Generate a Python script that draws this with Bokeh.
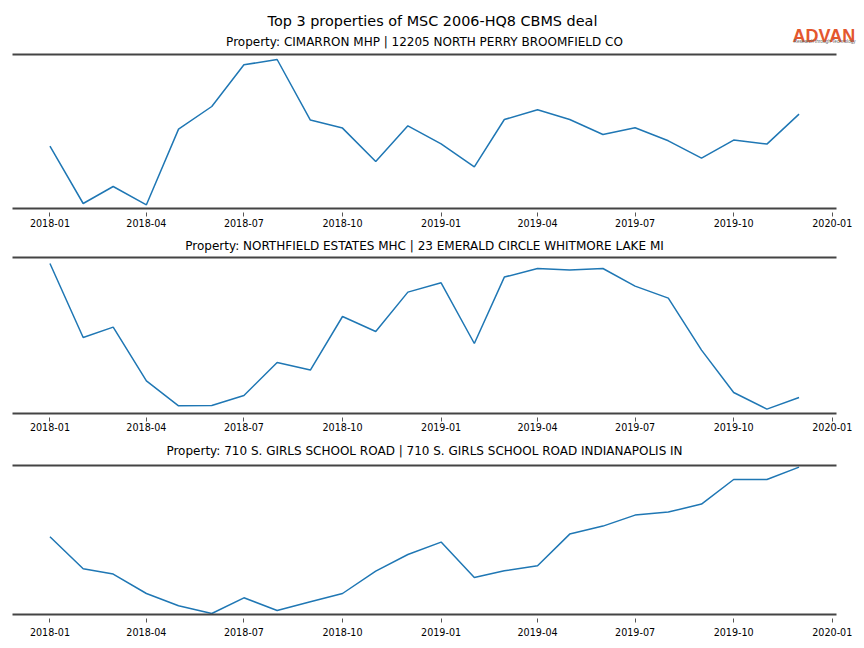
import pandas as pd
from bokeh.plotting import figure
from bokeh.models import (Range1d, LinearAxis, FixedTicker, Title,
                          MonthsTicker, DatetimeTickFormatter)
from bokeh.core.properties import value
from bokeh.layouts import column
from bokeh.embed import file_html
from bokeh.resources import INLINE

# ---- data ----
months = pd.date_range("2018-01-01", periods=24, freq="MS")

suptitle = "Top 3 properties of MSC 2006-HQ8 CBMS deal"
titles = [
    "Property: CIMARRON MHP | 12205 NORTH PERRY BROOMFIELD CO",
    "Property: NORTHFIELD ESTATES MHC | 23 EMERALD CIRCLE WHITMORE LAKE MI",
    "Property: 710 S. GIRLS SCHOOL ROAD | 710 S. GIRLS SCHOOL ROAD INDIANAPOLIS IN",
]
logo_text = "ADVAN"
logo_tagline = "Research through Technology"

cimarron = [62.4, 5.0, 22.0, 3.7, 79.4, 102.0, 143.7, 149.0, 88.4, 80.4, 47.0, 82.7,
            64.7, 41.7, 89.0, 98.7, 89.0, 74.0, 80.7, 67.7, 50.4, 68.4, 64.4, 94.4]
northfield = [150.0, 76.0, 86.4, 32.7, 7.7, 8.0, 18.0, 51.0, 43.4, 97.0, 82.0, 121.4,
              130.7, 70.0, 136.4, 145.0, 143.4, 145.0, 127.4, 115.4, 63.4, 21.0, 4.4, 16.0]
girls_school = [77.7, 45.7, 40.4, 21.0, 8.7, 1.0, 16.7, 4.0, 12.7, 21.0, 43.4, 60.0,
                72.4, 37.0, 43.7, 48.7, 80.4, 88.4, 99.4, 102.4, 110.4, 135.0, 135.0, 147.4]
series = [cimarron, northfield, girls_school]
y_tops = [154, 156, 149]          # axis upper limits (axis lower limit 0)

# ---- layout / style ----
FONT = "DejaVu Sans"
LINE = "#1f77b4"
SPINE = "#444444"
W = 864
LEFT = 12
HEADER_H = 50
frame_heights = [154, 156, 149]
border_top = [4, 25, 28]
border_bottom = [24, 21, 30]
title_standoff = [None, 9, 15]
label_standoff = [2, 1, 5]

span = months[-1] - months[0]
x_start = months[0] - span * 0.05
x_end = months[-1] + span * 0.05

# header with the overall title, first panel title and logo (coordinates = page px)
hdr = figure(frame_width=W - LEFT, frame_height=HEADER_H, x_range=Range1d(LEFT, W),
             y_range=Range1d(HEADER_H, 0), x_axis_location=None, y_axis_location=None,
             output_backend="svg", toolbar_location=None, min_border=0,
             min_border_left=LEFT)
hdr.grid.visible = False
hdr.outline_line_color = None
hdr.text(x=[W / 2], y=[20], text=[suptitle], text_align="center", text_baseline="middle",
         text_font=value(FONT), text_font_size="14.4px", text_color="black")
hdr.text(x=[LEFT + 824 / 2], y=[41.5], text=[titles[0]], text_align="center",
         text_baseline="middle", text_font=value(FONT), text_font_size="12px",
         text_color="black")
hdr.text(x=[792], y=[35], text=[logo_text], text_align="left", text_baseline="alphabetic",
         text_font=value("Liberation Sans"), text_font_size="18px",
         text_font_style="bold", text_color="#e4572e")
hdr.text(x=[793], y=[40.5], text=[logo_tagline], text_align="left",
         text_baseline="alphabetic", text_font=value("Liberation Sans"),
         text_font_size="4.7px", text_color="#666666")

figs = [hdr]
for i, (vals, ttl) in enumerate(zip(series, titles)):
    p = figure(x_axis_type="datetime", frame_width=824, frame_height=frame_heights[i],
               x_range=Range1d(x_start, x_end), y_range=Range1d(0, y_tops[i]),
               y_axis_location=None, output_backend="svg", toolbar_location=None,
               title=None, min_border_left=LEFT, min_border_right=28,
               min_border_top=border_top[i], min_border_bottom=border_bottom[i])
    p.grid.visible = False
    p.outline_line_color = None
    p.line(months, vals, line_color=LINE, line_width=1.5)

    ax = p.xaxis[0]
    ax.ticker = MonthsTicker(months=[0, 3, 6, 9])
    ax.formatter = DatetimeTickFormatter(months="%Y-%m", days="%Y-%m", years="%Y-%m")
    ax.axis_line_color = SPINE
    ax.axis_line_width = 2
    ax.major_tick_line_color = "#555555"
    ax.major_tick_in = -4
    ax.major_tick_out = 8
    ax.minor_tick_line_color = None
    ax.major_label_standoff = label_standoff[i]
    ax.major_label_text_font = FONT
    ax.major_label_text_font_size = "9.6px"
    ax.major_label_text_color = "black"

    top = LinearAxis(ticker=FixedTicker(ticks=[]), axis_line_color=SPINE,
                     axis_line_width=2, major_tick_line_color=None,
                     minor_tick_line_color=None, major_label_text_font_size="0px",
                     major_tick_out=0, major_tick_in=0, major_label_standoff=0)
    p.add_layout(top, "above")
    if i > 0:
        p.add_layout(Title(text=ttl, align="center", text_font=FONT,
                           text_font_size="12px", text_font_style="normal",
                           text_color="black", standoff=title_standoff[i]), "above")
    figs.append(p)

layout = column(*figs, spacing=0)
open("out.html", "w").write(file_html(layout, INLINE))
